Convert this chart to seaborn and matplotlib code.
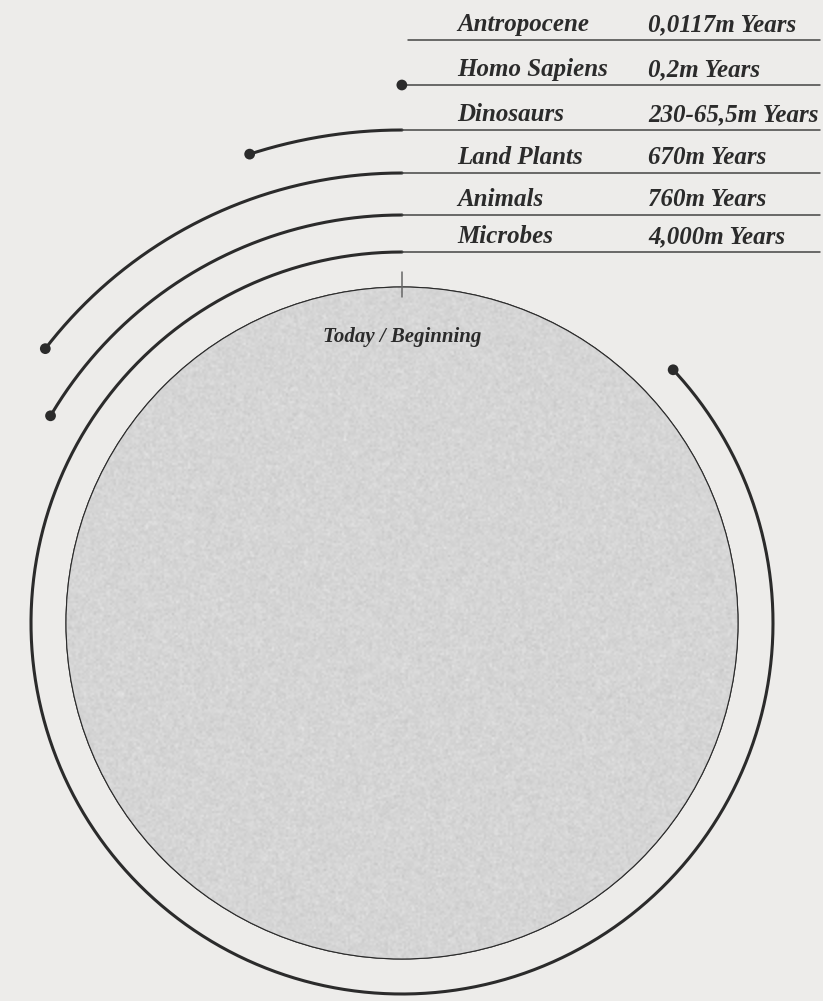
import numpy as np
import pandas as pd
import matplotlib.pyplot as plt
import seaborn as sns
from matplotlib.patches import Circle

sns.set_theme(style="white")
plt.rcParams['font.family'] = ['Liberation Serif', 'DejaVu Serif']

# data: when each thing started, in million years ago
eras = ["Antropocene", "Homo Sapiens", "Dinosaurs", "Land Plants", "Animals", "Microbes"]
value_labels = ["0,0117m Years", "0,2m Years", "230-65,5m Years",
                "670m Years", "760m Years", "4,000m Years"]
start_my = [0.0117, 0.2, 230, 670, 760, 4000]
earth_age = 4600
centre_label = "Today / Beginning"

# layout (pixels)
W, H = 823, 1001
cx, cy, r0 = 402, 623, 336
row_y = [40, 85, 130, 173, 215, 252]
bg = "#edecea"
ink = "#2b2b2b"

fig = plt.figure(figsize=(W / 100, H / 100), dpi=100)
fig.patch.set_facecolor(bg)
ax = fig.add_axes([0, 0, 1, 1])
ax.set_facecolor(bg)
ax.set_xlim(0, W)
ax.set_ylim(H, 0)
ax.axis("off")

# grey disc with a fine grain
disc = Circle((cx, cy), r0, facecolor="#d4d4d4", edgecolor=ink, linewidth=0.8, zorder=1)
ax.add_patch(disc)
grain = np.random.default_rng(3).normal(0.835, 0.02, size=(336, 336))
img = ax.imshow(grain, cmap="gray", vmin=0, vmax=1, interpolation="bilinear",
                extent=[cx - r0, cx + r0, cy + r0, cy - r0], zorder=2)
img.set_clip_path(disc)
ax.add_patch(Circle((cx, cy), r0, facecolor="none", edgecolor=ink, linewidth=0.8, zorder=3))

# arcs: start at the top, run anticlockwise, length = share of earth's age
rows = []
for era, my, ry in zip(eras, start_my, row_y):
    rad = cy - ry
    theta = np.linspace(0, my / earth_age * 2 * np.pi, 400)
    rows.append(pd.DataFrame({"era": era,
                              "x": cx - rad * np.sin(theta),
                              "y": cy - rad * np.cos(theta)}))
arcs = pd.concat(rows, ignore_index=True)
sns.lineplot(data=arcs, x="x", y="y", hue="era", palette={e: ink for e in eras},
             sort=False, estimator=None, linewidth=2.2, legend=False, ax=ax, zorder=4)

ends = arcs.groupby("era", sort=False).tail(1)
ends = ends[ends["era"] != "Antropocene"]  # no marker on the newest one
sns.scatterplot(data=ends, x="x", y="y", color=ink, s=60, edgecolor="none", ax=ax, zorder=5)
ax.set_xlim(0, W)
ax.set_ylim(H, 0)

# table
for era, lab, ry in zip(eras, value_labels, row_y):
    x0 = 408 if era == "Antropocene" else cx
    ax.plot([x0, 820], [ry, ry], color="#444444", linewidth=1.1, zorder=4)
    ax.text(457, ry - 9, era, fontsize=18, fontweight="bold", fontstyle="italic",
            color=ink, va="baseline", ha="left")
    ax.text(648, ry - 9, lab, fontsize=18, fontweight="bold", fontstyle="italic",
            color=ink, va="baseline", ha="left")

ax.plot([cx, cx], [272, 297], color="#666666", linewidth=1.1, zorder=6)
ax.text(cx, 342, centre_label, fontsize=15, fontweight="bold", fontstyle="italic",
        color=ink, ha="center", va="baseline", zorder=6)

fig.savefig("out.png", dpi=100, facecolor=bg)
